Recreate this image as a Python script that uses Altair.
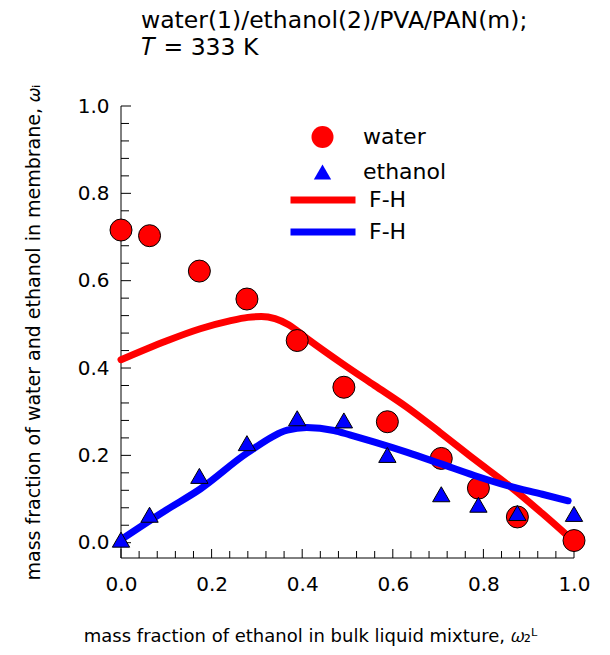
import altair as alt
import pandas as pd

# ---------------- data ----------------
x_exp = [0.0, 0.063, 0.173, 0.278, 0.389, 0.492, 0.588, 0.707, 0.789, 0.875, 1.0]
water = [0.716, 0.703, 0.622, 0.558, 0.463, 0.356, 0.277, 0.193, 0.125, 0.059, 0.005]
ethanol = [0.007, 0.064, 0.153, 0.228, 0.285, 0.280, 0.201, 0.111, 0.087, 0.068, 0.066]

fh_water_x = [0.0, 0.10, 0.175, 0.24, 0.28, 0.31, 0.34, 0.37, 0.41, 0.49, 0.56, 0.63, 0.705, 0.78, 0.855, 0.93, 0.99]
fh_water_y = [0.419, 0.462, 0.490, 0.508, 0.516, 0.518, 0.513, 0.499, 0.468, 0.409, 0.360, 0.311, 0.252, 0.191, 0.132, 0.067, 0.012]

fh_eth_x = [0.0, 0.10, 0.175, 0.278, 0.367, 0.41, 0.47, 0.505, 0.558, 0.632, 0.705, 0.78, 0.855, 0.93, 0.987]
fh_eth_y = [0.007, 0.075, 0.123, 0.205, 0.258, 0.264, 0.257, 0.247, 0.231, 0.207, 0.181, 0.154, 0.130, 0.111, 0.096]

series_names = ["water", "ethanol"]
model_names = ["F-H water", "F-H ethanol"]

x_domain = [0.0, 1.0]
y_domain = [-0.035, 1.0]
major_ticks = [0.0, 0.2, 0.4, 0.6, 0.8, 1.0]
minor_ticks = [0.04, 0.08, 0.12, 0.16, 0.24, 0.28, 0.32, 0.36, 0.44, 0.48,
               0.52, 0.56, 0.64, 0.68, 0.72, 0.76, 0.84, 0.88, 0.92, 0.96]

title_lines = ["water(1)/ethanol(2)/PVA/PAN(m);", "\U0001D447 = 333 K"]
x_title = "mass fraction of ethanol in bulk liquid mixture, \U0001D714\u2082\u1D38"
y_title = "mass fraction of water and ethanol in membrane, \U0001D714\u1D62"

# ---------------- tables ----------------
water_df = pd.DataFrame({"x": x_exp, "y": water, "series": "water"})
eth_df = pd.DataFrame({"x": x_exp, "y": ethanol, "series": "ethanol"})
fhw_df = pd.DataFrame({"x": fh_water_x, "y": fh_water_y, "model": "F-H water"})
fhe_df = pd.DataFrame({"x": fh_eth_x, "y": fh_eth_y, "model": "F-H ethanol"})
major_df = pd.DataFrame({"t": major_ticks})
minor_df = pd.DataFrame({"t": minor_ticks})
frame_df = pd.DataFrame({"x0": [x_domain[0]], "x1": [x_domain[1]],
                         "y0": [y_domain[0]], "y1": [y_domain[1]]})

FONT = "DejaVu Sans"
W, H = 453, 452
RED, BLUE = "#ff0000", "#0000ff"

# tick lengths converted to data units (inward ticks)
XSPAN = x_domain[1] - x_domain[0]
YSPAN = y_domain[1] - y_domain[0]
xt_major = y_domain[0] + 9 / H * YSPAN
xt_minor = y_domain[0] + 7 / H * YSPAN
yt_major = x_domain[0] + 10 / W * XSPAN
yt_minor = x_domain[0] + 8 / W * XSPAN

xs = alt.Scale(domain=x_domain, nice=False, zero=False)
ys = alt.Scale(domain=y_domain, nice=False, zero=False)

fill_scale = alt.Scale(domain=series_names, range=[RED, BLUE])
shape_scale = alt.Scale(domain=series_names, range=["circle", "triangle-up"])
size_scale = alt.Scale(domain=series_names, range=[484, 300])
stroke_scale = alt.Scale(domain=model_names, range=[RED, BLUE])

pt_legend = alt.Legend(
    title=None, orient="none", legendX=190, legendY=16, clipHeight=30, rowPadding=5,
    labelOffset=29, labelFontSize=22, labelFont=FONT, labelColor="black",
    symbolStrokeColor="black", symbolStrokeWidth=1, symbolOpacity=1, padding=0,
)
ln_legend = alt.Legend(
    title=None, orient="none", legendX=166, legendY=80, clipHeight=28, rowPadding=4,
    labelOffset=10, labelFontSize=22, labelFont=FONT, labelColor="black",
    symbolType="stroke", symbolSize=4225, symbolStrokeWidth=7, labelExpr="'F-H'", padding=0,
)

XA = alt.Axis(
    orient="bottom", values=major_ticks, format=".1f", ticks=False, tickSize=0,
    labelFlush=False, labelPadding=16, labelFontSize=20, labelFont=FONT, labelColor="black",
    domain=False,
    title=x_title, titleFont=FONT, titleFontSize=18, titleFontWeight="normal",
    titleColor="black", titlePadding=33, titleX=189, titleAnchor="middle",
)
YA = alt.Axis(
    orient="left", values=major_ticks, format=".1f", ticks=False, tickSize=0,
    labelFlush=False, labelPadding=12, labelFontSize=20, labelFont=FONT, labelColor="black",
    domain=False,
    title=y_title, titleFont=FONT, titleFontSize=19, titleFontWeight="normal",
    titleColor="black", titlePadding=34,
)

rule_style = dict(color="black", strokeWidth=1)

# axis lines
left_line = alt.Chart(frame_df).mark_rule(**rule_style).encode(
    x=alt.X("x0:Q", scale=xs, axis=XA),
    y=alt.Y("y0:Q", scale=ys, axis=YA),
    y2="y1:Q",
)
bottom_line = alt.Chart(frame_df).mark_rule(**rule_style).encode(
    x=alt.X("x0:Q", scale=xs, axis=XA), x2="x1:Q",
    y=alt.Y("y0:Q", scale=ys, axis=YA),
)
# inward ticks
x_major = alt.Chart(major_df).mark_rule(**rule_style).encode(
    x=alt.X("t:Q", scale=xs, axis=XA),
    y=alt.Y(datum=y_domain[0], scale=ys, axis=YA), y2=alt.Y2(datum=xt_major),
)
x_minor = alt.Chart(minor_df).mark_rule(**rule_style).encode(
    x=alt.X("t:Q", scale=xs, axis=XA),
    y=alt.Y(datum=y_domain[0], scale=ys, axis=YA), y2=alt.Y2(datum=xt_minor),
)
y_major = alt.Chart(major_df).mark_rule(**rule_style).encode(
    y=alt.Y("t:Q", scale=ys, axis=YA),
    x=alt.X(datum=x_domain[0], scale=xs, axis=XA), x2=alt.X2(datum=yt_major),
)
y_minor = alt.Chart(minor_df).mark_rule(**rule_style).encode(
    y=alt.Y("t:Q", scale=ys, axis=YA),
    x=alt.X(datum=x_domain[0], scale=xs, axis=XA), x2=alt.X2(datum=yt_minor),
)

line_mark = dict(strokeWidth=7, strokeCap="round", strokeJoin="round", interpolate="monotone")
pt_mark = dict(filled=True, stroke="black", strokeWidth=1, opacity=1)

red_line = alt.Chart(fhw_df).mark_line(**line_mark).encode(
    x=alt.X("x:Q", scale=xs, axis=XA),
    y=alt.Y("y:Q", scale=ys, axis=YA),
    stroke=alt.Stroke("model:N", scale=stroke_scale, legend=ln_legend),
)
water_pts = alt.Chart(water_df).mark_point(**pt_mark).encode(
    x=alt.X("x:Q", scale=xs, axis=XA),
    y=alt.Y("y:Q", scale=ys, axis=YA),
    fill=alt.Fill("series:N", scale=fill_scale, legend=pt_legend),
    shape=alt.Shape("series:N", scale=shape_scale, legend=pt_legend),
    size=alt.Size("series:N", scale=size_scale, legend=pt_legend),
)
blue_line = alt.Chart(fhe_df).mark_line(**line_mark).encode(
    x=alt.X("x:Q", scale=xs, axis=XA),
    y=alt.Y("y:Q", scale=ys, axis=YA),
    stroke=alt.Stroke("model:N", scale=stroke_scale, legend=ln_legend),
)
eth_pts = alt.Chart(eth_df).mark_point(**pt_mark).encode(
    x=alt.X("x:Q", scale=xs, axis=XA),
    y=alt.Y("y:Q", scale=ys, axis=YA),
    fill=alt.Fill("series:N", scale=fill_scale, legend=pt_legend),
    shape=alt.Shape("series:N", scale=shape_scale, legend=pt_legend),
    size=alt.Size("series:N", scale=size_scale, legend=pt_legend),
)

chart = alt.layer(
    left_line, bottom_line, x_major, x_minor, y_major, y_minor,
    red_line, water_pts, blue_line, eth_pts,
).properties(
    width=W, height=H,
    autosize=alt.AutoSizeParams(type="none"),
    padding={"left": 121, "top": 106, "right": 36, "bottom": 97},
    title=alt.Title(title_lines, anchor="start", frame="group", dx=20, offset=25,
                    font=FONT, fontSize=23.5, fontWeight="normal", color="black", lineHeight=27),
    background="white",
).configure_view(stroke=None).configure_axis(grid=False)

chart.save("out.html", embed_options={"renderer": "svg", "actions": False})
